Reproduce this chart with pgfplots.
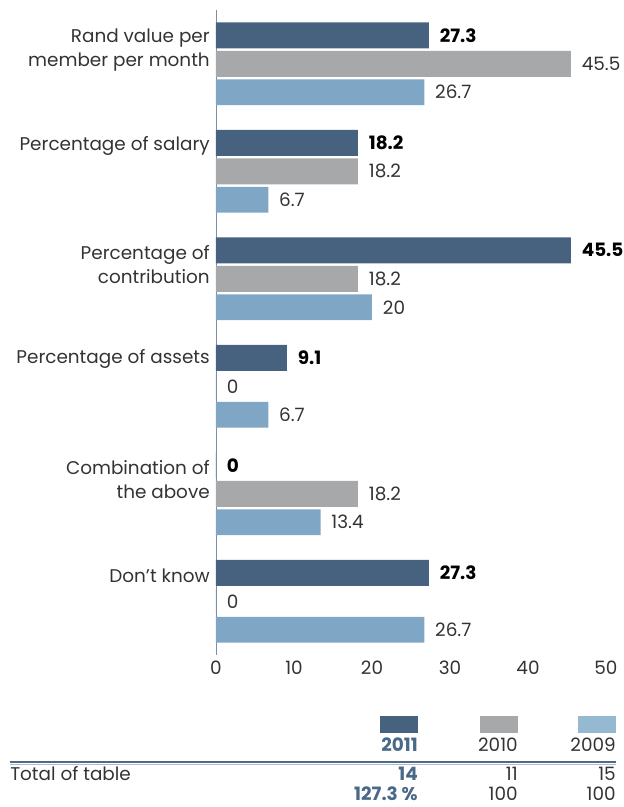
\documentclass[border=0pt]{standalone}
\usepackage{pgfplots}
\pgfplotsset{compat=1.18}
\usepackage{fontspec}
\setmainfont{Poppins}
\definecolor{c2011}{HTML}{46627E}
\definecolor{c2010}{HTML}{A7A8AA}
\definecolor{c2009}{HTML}{80A6C5}
\definecolor{c2009l}{HTML}{94B9D0}
\definecolor{cyear}{HTML}{4A6888}
\definecolor{cline}{HTML}{4F6A87}
\definecolor{caxis}{HTML}{7B90A8}
\definecolor{ctext}{HTML}{333333}
\pgfplotsset{/pgf/number format/assume math mode=true}
\newcommand{\lbl}{\fontsize{13.8}{18}\selectfont}
\begin{document}
\lbl
\begin{tikzpicture}
\useasboundingbox (0,0) rectangle (468pt,-605.25pt);
\begin{axis}[
    at={(162pt,-491.25pt)}, anchor=south west,
    scale only axis, width=292.5pt, height=483.75pt,
    xbar, bar width=0.2416,
    xmin=0, xmax=50, ymin=-0.5, ymax=5.5, y dir=reverse,
    axis lines*=left,
    x axis line style={draw=none},
    y axis line style={draw=caxis, line width=0.6pt},
    major tick length=0pt,
    xtick={0,10,20,30,40,50},
    ytick={-0.13,0.76,1.87,2.75,3.87,4.76},
    yticklabels={{Rand value per\\member per month},{Percentage of salary},{Percentage of\\contribution},{Percentage of assets},{Combination of\\the above},{Don’t know}},
    yticklabel style={align=right, text=ctext, font=\lbl, inner sep=0pt, xshift=-4.5pt},
    xticklabel style={text=ctext, font=\lbl},
    nodes near coords,
    nodes near coords style={anchor=west, inner sep=0pt, xshift=8pt, font=\lbl, text=ctext},
]
\addplot[draw=none, fill=c2011, bar shift=-0.265,
    nodes near coords style={font=\lbl\bfseries, text=black}] coordinates {
    (27.3,0) (18.2,1) (45.5,2) (9.1,3) (0,4) (27.3,5)};
\addplot[draw=none, fill=c2010, bar shift=0] coordinates {
    (45.5,0) (18.2,1) (18.2,2) (0,3) (18.2,4) (0,5)};
\addplot[draw=none, fill=c2009, bar shift=0.265] coordinates {
    (26.7,0) (6.7,1) (20,2) (6.7,3) (13.4,4) (26.7,5)};
\end{axis}
\begin{scope}[x=0.75pt, y=-0.75pt, every node/.style={inner sep=0pt, font=\lbl, text=ctext}]
\fill[c2011] (380,716) rectangle (418,733);
\fill[c2010] (480,716) rectangle (518,733);
\fill[c2009l] (578,716) rectangle (616,733);
\node[anchor=base east, font=\lbl\bfseries, text=cyear] at (418,751) {2011};
\node[anchor=base east] at (518,751) {2010};
\node[anchor=base east] at (616,751) {2009};
\draw[line width=1.8pt, cline] (10,762) -- (616,762);
\draw[line width=0.5pt, caxis!60] (10,764.5) -- (616,764.5);
\node[anchor=base west] at (10,780) {Total of table};
\node[anchor=base east, font=\lbl\bfseries, text=cyear] at (418,780) {14};
\node[anchor=base east] at (518,780) {11};
\node[anchor=base east] at (616,780) {15};
\node[anchor=base east, font=\lbl\bfseries, text=cyear] at (418,800.5) {127.3 \%};
\node[anchor=base east] at (518,800.5) {100};
\node[anchor=base east] at (616,800.5) {100};
\end{scope}
\end{tikzpicture}
\end{document}
